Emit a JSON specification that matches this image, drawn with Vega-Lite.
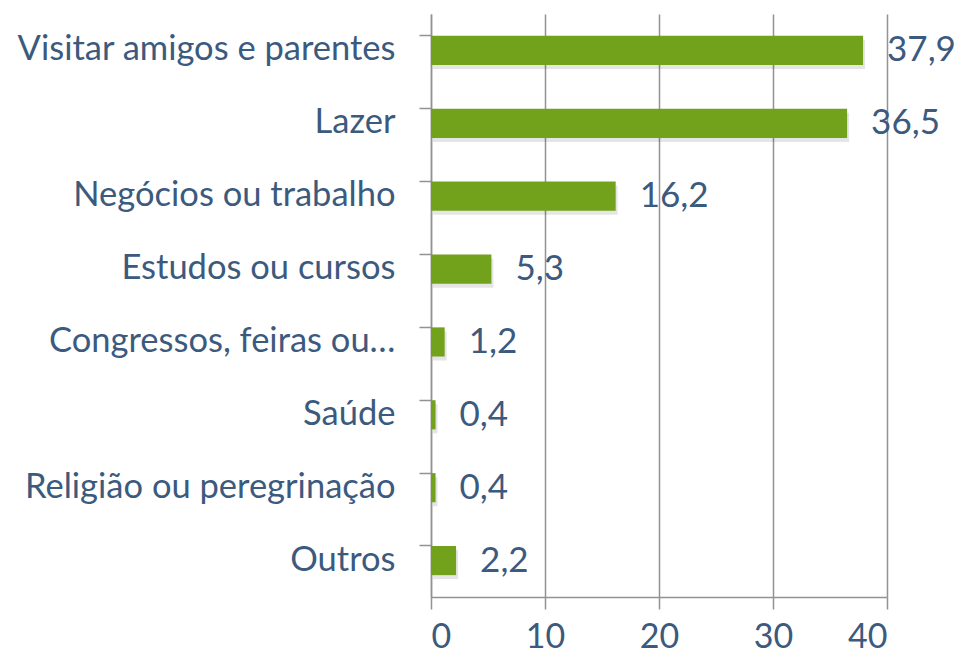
{
  "$schema": "https://vega.github.io/schema/vega-lite/v6.json",
  "width": 456,
  "height": 583,
  "autosize": {"type": "none"},
  "padding": {"left": 431, "top": 14, "right": 69, "bottom": 58},
  "background": "white",
  "data": {
    "values": [
      {"motivo": "Visitar amigos e parentes", "pct": 37.9, "label": "37,9"},
      {"motivo": "Lazer", "pct": 36.5, "label": "36,5"},
      {"motivo": "Negócios ou trabalho", "pct": 16.2, "label": "16,2"},
      {"motivo": "Estudos ou cursos", "pct": 5.3, "label": "5,3"},
      {"motivo": "Congressos, feiras ou…", "pct": 1.2, "label": "1,2"},
      {"motivo": "Saúde", "pct": 0.4, "label": "0,4"},
      {"motivo": "Religião ou peregrinação", "pct": 0.4, "label": "0,4"},
      {"motivo": "Outros", "pct": 2.2, "label": "2,2"}
    ]
  },
  "encoding": {
    "y": {
      "field": "motivo", "type": "nominal", "sort": null,
      "scale": {"paddingInner": 0.6, "paddingOuter": 0.3},
      "axis": {
        "title": null, "bandPosition": 0, "grid": false,
        "domainColor": "#929292", "domainWidth": 1.5,
        "tickColor": "#929292", "tickWidth": 1.5, "tickSize": 12,
        "labelFont": "Lato", "labelFontSize": 34.5, "labelColor": "#3b5a7e",
        "labelPadding": 24, "labelLimit": 430
      }
    },
    "x": {
      "field": "pct", "type": "quantitative",
      "scale": {"domain": [0, 40], "nice": false},
      "axis": {
        "title": null, "values": [0, 10, 20, 30, 40],
        "grid": true, "gridColor": "#929292", "gridWidth": 1.5,
        "domainColor": "#929292", "domainWidth": 1.5,
        "tickColor": "#929292", "tickWidth": 1.5, "tickSize": 12,
        "labelFont": "Lato", "labelFontSize": 34, "labelColor": "#3b5a7e",
        "labelPadding": 11
      }
    }
  },
  "layer": [
    {"mark": {"type": "bar", "color": "#000000", "opacity": 0.1, "xOffset": 2, "yOffset": 4}},
    {"mark": {"type": "bar", "color": "#72a21b"}},
    {
      "mark": {"type": "text", "align": "left", "baseline": "middle", "dx": 24, "font": "Lato", "fontSize": 35, "color": "#3b5a7e"},
      "encoding": {"text": {"field": "label"}}
    }
  ],
  "config": {"view": {"stroke": null}}
}
